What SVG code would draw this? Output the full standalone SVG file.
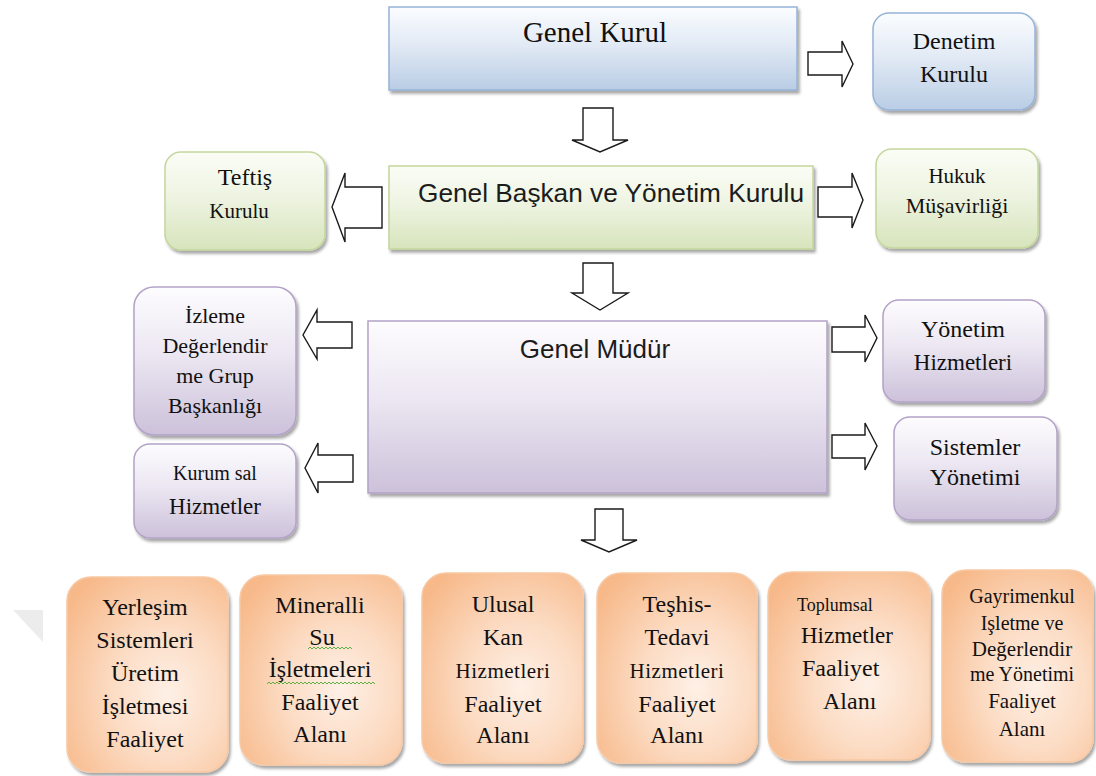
<svg xmlns="http://www.w3.org/2000/svg" width="1096" height="776" viewBox="0 0 1096 776">
<defs>
<linearGradient id="gBlue" x1="0" y1="0" x2="0" y2="1"><stop offset="0" stop-color="#fbfdff"/><stop offset="0.45" stop-color="#e2eaf5"/><stop offset="1" stop-color="#b9cde5"/></linearGradient>
<linearGradient id="gGreen" x1="0" y1="0" x2="0" y2="1"><stop offset="0" stop-color="#fbfdf6"/><stop offset="0.45" stop-color="#eef4e2"/><stop offset="1" stop-color="#d7e4bc"/></linearGradient>
<linearGradient id="gPurple" x1="0" y1="0" x2="0" y2="1"><stop offset="0" stop-color="#fdfcfe"/><stop offset="0.45" stop-color="#ece7f2"/><stop offset="1" stop-color="#ccc1da"/></linearGradient>
<radialGradient id="gOrange" cx="0.62" cy="0.6" r="0.75"><stop offset="0" stop-color="#fef0e6"/><stop offset="0.45" stop-color="#fcdcc4"/><stop offset="1" stop-color="#f7b98a"/></radialGradient>
<filter id="sh" x="-10%" y="-10%" width="125%" height="125%"><feDropShadow dx="2" dy="3" stdDeviation="1.6" flood-color="#000" flood-opacity="0.35"/></filter>
<style>
.blue{fill:url(#gBlue);stroke:#95b3d7;stroke-width:1.5;filter:url(#sh)}
.green{fill:url(#gGreen);stroke:#c3d69b;stroke-width:1.5;filter:url(#sh)}
.purple{fill:url(#gPurple);stroke:#b3a2c7;stroke-width:1.5;filter:url(#sh)}
.orange{fill:url(#gOrange);stroke:#f8c9a4;stroke-width:1.5;filter:url(#sh)}
.arr{fill:#fff;stroke:#1a1a1a;stroke-width:1.4;stroke-linejoin:miter}
.s{font-family:"Liberation Serif","Times New Roman",serif;fill:#111;text-anchor:middle}
.sl{font-family:"Liberation Serif","Times New Roman",serif;fill:#111;text-anchor:start}
.a{font-family:"Liberation Sans",Arial,sans-serif;fill:#1c1c1c}
.wavy{fill:none;stroke:#5fae43;stroke-width:1}
</style>
</defs>
<rect width="1096" height="776" fill="#fff"/>
<polygon points="13,610 43,610 43,642" fill="#ececec"/>

<g id="connectors">
<path class="arr" d="M808,52 H842 V41 L853,64 L842,87 V75 H808 Z"/>
<path class="arr" d="M583,108 H613 V140 H628 L600,152 L572,140 H583 Z"/>
<path class="arr" d="M382,187 H345 V173 L332,207 L345,242 V228 H382 Z"/>
<path class="arr" d="M818,187 H852 V173 L863,200 L852,228 V217 H818 Z"/>
<path class="arr" d="M583,263 H613 V293 H628 L600,310 L572,293 H583 Z"/>
<path class="arr" d="M352,322 H317 V310 L303,335 L317,359 V348 H352 Z"/>
<path class="arr" d="M353,455 H318 V443 L305,468 L318,493 V482 H353 Z"/>
<path class="arr" d="M832,327 H865 V315 L877,338 L865,362 V352 H832 Z"/>
<path class="arr" d="M832,435 H865 V423 L877,446 L865,470 V458 H832 Z"/>
<path class="arr" d="M595,509 H623 V540 H637 L609,552 L581,540 H595 Z"/>
</g>

<g id="genel-kurul">
<rect class="blue" x="389" y="7" width="408" height="83"/>
<text class="s" x="595" y="42" font-size="29">Genel Kurul</text>
</g>

<g id="denetim-kurulu">
<rect class="blue" x="873" y="13" width="162" height="97" rx="16"/>
<text class="s" x="954" y="49" font-size="24">Denetim</text>
<text class="s" x="954" y="82" font-size="24">Kurulu</text>
</g>

<g id="genel-baskan">
<rect class="green" x="389" y="166" width="424" height="83"/>
<text class="a" x="418" y="202" font-size="26" textLength="386" lengthAdjust="spacingAndGlyphs">Genel Başkan ve Yönetim Kurulu</text>
</g>

<g id="teftis-kurulu">
<rect class="green" x="165" y="152" width="160" height="98" rx="16"/>
<text class="s" x="245" y="185" font-size="24">Teftiş</text>
<text class="s" x="239" y="218" font-size="21">Kurulu</text>
</g>

<g id="hukuk-musavirligi">
<rect class="green" x="876" y="149" width="162" height="99" rx="16"/>
<text class="s" x="957" y="183" font-size="21">Hukuk</text>
<text class="s" x="957" y="213" font-size="22">Müşavirliği</text>
</g>

<g id="genel-mudur">
<rect class="purple" x="368" y="321" width="459" height="172"/>
<text class="a" x="595" y="358" font-size="26" text-anchor="middle">Genel Müdür</text>
</g>

<g id="izleme">
<rect class="purple" x="134" y="287" width="162" height="148" rx="20"/>
<text class="s" x="215" y="323" font-size="22">İzleme</text>
<text class="s" x="215" y="353" font-size="22">Değerlendir</text>
<text class="s" x="215" y="383" font-size="22">me Grup</text>
<text class="s" x="215" y="413" font-size="22">Başkanlığı</text>
</g>

<g id="kurumsal-hizmetler">
<rect class="purple" x="134" y="444" width="162" height="94" rx="16"/>
<text class="s" x="215" y="480" font-size="20">Kurum sal</text>
<text class="s" x="215" y="514" font-size="23">Hizmetler</text>
</g>

<g id="yonetim-hizmetleri">
<rect class="purple" x="883" y="300" width="162" height="102" rx="16"/>
<text class="s" x="963" y="337" font-size="24">Yönetim</text>
<text class="s" x="963" y="370" font-size="23">Hizmetleri</text>
</g>

<g id="sistemler-yonetimi">
<rect class="purple" x="894" y="417" width="163" height="103" rx="16"/>
<text class="s" x="975" y="455" font-size="24">Sistemler</text>
<text class="s" x="975" y="485" font-size="24">Yönetimi</text>
</g>

<g id="yerlesim">
<rect class="orange" x="67" y="577" width="161" height="195" rx="24"/>
<text class="s" x="145" y="615" font-size="24">Yerleşim</text>
<text class="s" x="145" y="648" font-size="24">Sistemleri</text>
<text class="s" x="145" y="681" font-size="24">Üretim</text>
<text class="s" x="145" y="714" font-size="24">İşletmesi</text>
<text class="s" x="145" y="747" font-size="24">Faaliyet</text>
</g>

<g id="mineralli-su">
<rect class="orange" x="240" y="575" width="162" height="190" rx="24"/>
<text class="s" x="320" y="613" font-size="24">Mineralli</text>
<text class="s" x="322" y="645" font-size="24">Su</text>
<text class="s" x="320" y="677" font-size="24">İşletmeleri</text>
<text class="s" x="320" y="710" font-size="24">Faaliyet</text>
<text class="s" x="320" y="742" font-size="24">Alanı</text>
<path class="wavy" d="M308,649 l2,-2 l2,2 l2,-2 l2,2 l2,-2 l2,2 l2,-2 l2,2 l2,-2 l2,2 l2,-2 l2,2 l2,-2 l2,2 l2,-2 l2,2 l2,-2 l2,2 l2,-2 l2,2 l2,-2 l2,2"/>
<path class="wavy" d="M267,684 l2,-2 l2,2 l2,-2 l2,2 l2,-2 l2,2 l2,-2 l2,2 l2,-2 l2,2 l2,-2 l2,2 l2,-2 l2,2 l2,-2 l2,2 l2,-2 l2,2 l2,-2 l2,2 l2,-2 l2,2 l2,-2 l2,2 l2,-2 l2,2 l2,-2 l2,2 l2,-2 l2,2 l2,-2 l2,2 l2,-2 l2,2 l2,-2 l2,2 l2,-2 l2,2 l2,-2 l2,2 l2,-2 l2,2 l2,-2 l2,2 l2,-2 l2,2 l2,-2 l2,2 l2,-2 l2,2 l2,-2 l2,2 l2,-2 l2,2"/>
</g>

<g id="ulusal-kan">
<rect class="orange" x="422" y="573" width="161" height="190" rx="24"/>
<text class="s" x="503" y="612" font-size="24">Ulusal</text>
<text class="s" x="503" y="645" font-size="24">Kan</text>
<text class="s" x="503" y="678" font-size="21" letter-spacing="0.5">Hizmetleri</text>
<text class="s" x="503" y="712" font-size="24">Faaliyet</text>
<text class="s" x="503" y="743" font-size="24">Alanı</text>
</g>

<g id="teshis-tedavi">
<rect class="orange" x="597" y="573" width="160" height="190" rx="24"/>
<text class="s" x="677" y="612" font-size="24">Teşhis-</text>
<text class="s" x="677" y="645" font-size="24">Tedavi</text>
<text class="s" x="677" y="678" font-size="21" letter-spacing="0.5">Hizmetleri</text>
<text class="s" x="677" y="712" font-size="24">Faaliyet</text>
<text class="s" x="677" y="743" font-size="24">Alanı</text>
</g>

<g id="toplumsal">
<rect class="orange" x="768" y="572" width="162" height="188" rx="24"/>
<text class="sl" x="797" y="611" font-size="18">Toplumsal</text>
<text class="sl" x="801" y="643" font-size="23">Hizmetler</text>
<text class="sl" x="802" y="676" font-size="24">Faaliyet</text>
<text class="sl" x="823" y="709" font-size="24">Alanı</text>
</g>

<g id="gayrimenkul">
<rect class="orange" x="942" y="570" width="151" height="192" rx="24"/>
<text class="s" x="1022" y="603" font-size="20">Gayrimenkul</text>
<text class="s" x="1022" y="630" font-size="20">Işletme ve</text>
<text class="s" x="1022" y="656" font-size="21">Değerlendir</text>
<text class="s" x="1022" y="681" font-size="20">me Yönetimi</text>
<text class="s" x="1022" y="708" font-size="21">Faaliyet</text>
<text class="s" x="1022" y="736" font-size="21">Alanı</text>
</g>
</svg>
